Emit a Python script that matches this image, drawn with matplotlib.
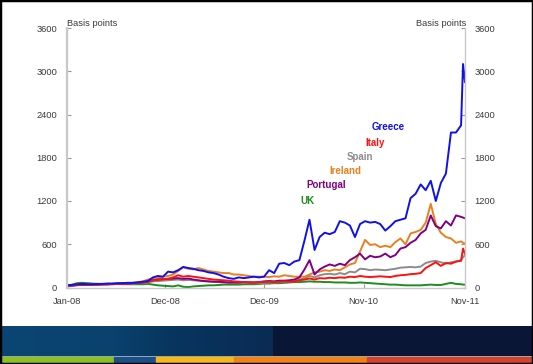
import numpy as np
import pandas as pd
import matplotlib
matplotlib.use("Agg")
import matplotlib.pyplot as plt
import matplotlib.dates as mdates
from matplotlib.patches import Rectangle

plt.rcParams['font.family'] = ['Liberation Sans', 'DejaVu Sans']

# ---- data (basis points) ----
dates = list(pd.date_range('2008-01-02', periods=79, freq='18D')) + \
        [pd.Timestamp('2011-11-13'), pd.Timestamp('2011-11-20')]

greece = [30, 35, 45, 50, 45, 45, 50, 50, 55, 55, 60, 60, 65, 65, 70, 80, 90, 140, 160, 150,
          220, 210, 240, 285, 270, 260, 240, 230, 210, 200, 180, 150, 130, 120, 140, 130, 140, 150, 140, 150,
          240, 200, 330, 340, 310, 360, 380, 650, 940, 520, 700, 760, 740, 770, 920, 900, 860, 700, 880, 920,
          900, 910, 880, 790, 850, 920, 940, 960, 1240, 1300, 1430, 1350, 1480, 1200, 1450, 1580, 2150, 2150, 2250,
          3100, 2850]
italy = [20, 30, 35, 40, 40, 40, 40, 45, 45, 50, 50, 55, 55, 60, 65, 70, 80, 100, 110, 115,
         120, 140, 170, 150, 160, 150, 140, 130, 120, 110, 105, 100, 95, 85, 80, 75, 75, 70, 75, 75,
         80, 75, 80, 85, 80, 85, 100, 110, 125, 110, 130, 125, 135, 130, 140, 135, 150, 145, 160, 150,
         145, 150, 155, 150, 145, 160, 170, 175, 185, 190, 200, 270, 310, 350, 300, 340, 330, 360, 370,
         540, 470]
spain = [15, 20, 30, 35, 35, 40, 40, 40, 45, 45, 50, 50, 55, 55, 60, 65, 70, 85, 90, 95,
         100, 105, 110, 100, 105, 100, 95, 90, 85, 80, 75, 70, 65, 65, 60, 65, 60, 60, 65, 65,
         70, 70, 75, 80, 80, 90, 110, 130, 160, 140, 170, 185, 190, 180, 200, 185, 220, 210, 260, 255,
         240, 250, 245, 240, 250, 260, 275, 280, 285, 280, 290, 340, 360, 370, 350, 330, 350, 360, 380,
         420, 450]
ireland = [20, 30, 35, 45, 40, 40, 45, 45, 50, 50, 55, 55, 60, 65, 75, 85, 110, 120, 130, 150,
           160, 180, 230, 280, 260, 250, 270, 250, 230, 220, 210, 200, 200, 180, 180, 170, 160, 150, 150, 150,
           145, 155, 150, 170, 160, 150, 150, 150, 180, 210, 220, 240, 230, 250, 240, 280, 320, 340, 500, 660,
           590, 600, 560, 580, 560, 630, 680, 600, 750, 770, 800, 900, 1160, 880, 760, 700, 680, 620, 640,
           620, 610]
portugal = [25, 30, 35, 35, 40, 40, 40, 45, 45, 50, 50, 55, 55, 60, 65, 70, 80, 100, 110, 115,
            120, 125, 130, 120, 125, 110, 100, 90, 85, 80, 80, 75, 70, 70, 70, 75, 70, 70, 75, 85,
            90, 85, 95, 95, 100, 110, 140, 250, 380, 180, 250, 290, 320, 300, 330, 310, 380, 420, 470, 390,
            440, 420, 430, 470, 420, 450, 540, 560, 620, 660, 750, 800, 1000, 850, 820, 920, 860, 1000, 980,
            970, 960]
uk = [20, 40, 60, 65, 60, 55, 50, 45, 45, 45, 50, 45, 45, 45, 45, 45, 50, 40, 30, 25,
      20, 15, 30, 10, 5, 15, 20, 25, 30, 30, 35, 40, 40, 40, 40, 45, 45, 45, 50, 55,
      55, 60, 60, 65, 70, 75, 75, 80, 85, 80, 80, 75, 75, 70, 70, 70, 65, 65, 70, 65,
      60, 55, 50, 45, 40, 40, 35, 30, 30, 30, 30, 35, 40, 35, 35, 50, 65, 50, 45,
      40, 40]

names = ['UK', 'Spain', 'Ireland', 'Portugal', 'Italy', 'Greece']
series = [uk, spain, ireland, portugal, italy, greece]
colors = ['#1e8c1e', '#8c8c8c', '#e8801e', '#800080', '#ff1010', '#1010ee']

tick_dates = ['2008-01-02', '2008-12-17', '2009-12-05', '2010-11-24', '2011-11-20']
tick_labels = ['Jan-08', 'Dec-08', 'Dec-09', 'Nov-10', 'Nov-11']
yticks = [0, 600, 1200, 1800, 2400, 3000, 3600]

W, H = 533, 364
fig = plt.figure(figsize=(W / 100, H / 100), dpi=100)

ax = fig.add_axes([67 / W, 1 - 287.5 / H, (465 - 67) / W, (287.5 - 28) / H])
x = mdates.date2num(dates)
for s, c in zip(series, colors):
    ax.plot(x, s, color=c, lw=1.4, solid_joinstyle='round')

ax.set_ylim(0, 3600)
ax.set_xlim(mdates.date2num(pd.Timestamp(tick_dates[0])), mdates.date2num(pd.Timestamp(tick_dates[-1])))
ax.set_yticks(yticks)
ax.set_yticklabels([str(v) for v in yticks])
ax.set_xticks(mdates.date2num(pd.to_datetime(tick_dates)))
ax.set_xticklabels(tick_labels)
ax.tick_params(axis='both', direction='in', length=3, width=0.8, color='#999999',
               labelsize=6.7, labelcolor='#3a3a3a', pad=7)
ax.tick_params(axis='y', right=True, labelright=True)
ax.spines['top'].set_visible(False)
for side in ['left', 'right', 'bottom']:
    ax.spines[side].set_color('#c8c8c8')
ax.spines['left'].set_linewidth(1.6)
ax.spines['right'].set_linewidth(1.0)
ax.spines['bottom'].set_linewidth(1.0)

fig.text(67 / W, 1 - 24 / H, 'Basis points', fontsize=6.7, color='#3a3a3a', ha='left', va='center')
fig.text(466 / W, 1 - 24 / H, 'Basis points', fontsize=6.7, color='#3a3a3a', ha='right', va='center')

# legend labels
lab_pos = {'Greece': (388, 127), 'Italy': (375, 143), 'Spain': (360, 157),
           'Ireland': (345, 171), 'Portugal': (326, 185), 'UK': (307, 201)}
for n, c in zip(names, colors):
    px, py = lab_pos[n]
    fig.text(px / W, 1 - py / H, n, color=c, fontsize=7, fontweight='bold', ha='center', va='center')

# bottom banner
ban = fig.add_axes([0, 8 / H, 1, 30 / H])
grad = np.zeros((1, 533, 3))
stops = [(0, (0.04, 0.27, 0.45)), (110, (0.04, 0.26, 0.43)), (170, (0.03, 0.21, 0.37)),
         (272, (0.04, 0.17, 0.33)), (273, (0.04, 0.09, 0.21)), (533, (0.04, 0.09, 0.21))]
for i in range(533):
    for (a, ca), (b, cb) in zip(stops[:-1], stops[1:]):
        if a <= i <= b:
            f = (i - a) / max(b - a, 1)
            grad[0, i] = np.array(ca) * (1 - f) + np.array(cb) * f
            break
ban.imshow(grad, aspect='auto', extent=[0, 533, 0, 1])
ban.set_axis_off()

line = fig.add_axes([0, 7 / H, 1, 1 / H])
line.add_patch(Rectangle((0, 0), 1, 1, color='#9aa4b0'))
line.set_axis_off()

strip = fig.add_axes([0, 1 / H, 1, 6 / H])
segs = [(0, 114, '#8cc21e'), (114, 156, '#1a4f8a'), (156, 234, '#f8b812'),
        (234, 367, '#f5820f'), (367, 533, '#d8412a')]
for a, b, c in segs:
    strip.add_patch(Rectangle((a, 0), b - a, 1, color=c))
strip.set_xlim(0, 533)
strip.set_ylim(0, 1)
strip.set_axis_off()

fig.patches.append(Rectangle((0, 0), 1, 1, transform=fig.transFigure, fill=False,
                             edgecolor='black', lw=2.5))

fig.savefig('out.png', dpi=100)
